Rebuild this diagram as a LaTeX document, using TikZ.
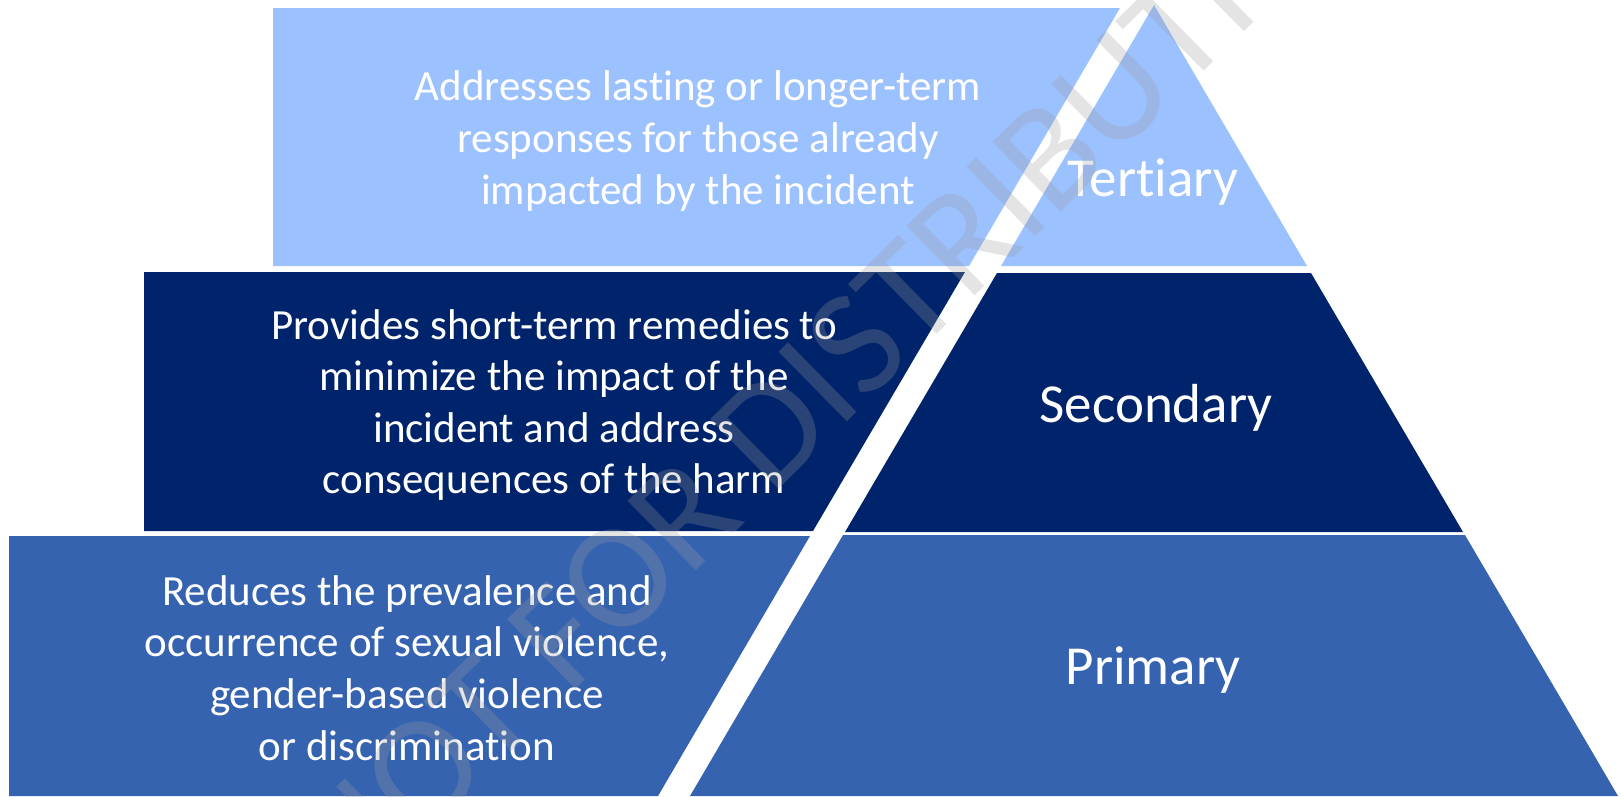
\documentclass[tikz,border=0pt]{standalone}
\usepackage{fontspec}
\setmainfont{Carlito}[Ligatures=NoCommon]
\usepackage{xcolor}
\usepackage{tikz}
\definecolor{tertblue}{RGB}{155,193,255}
\definecolor{secnavy}{RGB}{0,36,107}
\definecolor{primblue}{RGB}{54,99,176}

\begin{document}
\begin{tikzpicture}[x=1pt, y=-1pt,
    desc/.style={align=center, text=white, inner sep=0pt, font=\fontsize{43}{51.6}\selectfont},
    level/.style={text=white, inner sep=0pt, font=\fontsize{55}{66}\selectfont},
    wmark/.style={text=black!39, text opacity=0.27, inner sep=0pt, rotate=44.5, font=\fontsize{152}{180}\selectfont}]
    \useasboundingbox (0,0) rectangle (1621,796);

    % Tertiary
    \fill [tertblue] (273,8) -- (1120,8) -- (969,266) -- (273,266) -- cycle;
    \fill [tertblue] (1154,5) -- (1307,266) -- (1001,266) -- cycle;

    % Secondary
    \fill [secnavy] (144,272) -- (965,272) -- (813,531) -- (144,531) -- cycle;
    \fill [secnavy] (997,273) -- (1311,273) -- (1463,532) -- (845,532) -- cycle;

    % Primary
    \fill [primblue] (9,536) -- (810,536) -- (658,796) -- (9,796) -- cycle;
    \fill [primblue] (843,535) -- (1465,535) -- (1618,796) -- (690,796) -- cycle;

    % Texts
    \node [desc] (tertdesc) at (698,141) {Addresses lasting or longer-term\\responses for those already\\impacted by the incident};
    \node [level] (tert) at (1153,182) {Tertiary};
    \node [desc] (secdesc) at (554,405) {Provides short-term remedies to\\minimize the impact of the\\incident and address\\consequences of the harm};
    \node [level] (sec) at (1156,408) {Secondary};
    \node [desc] (primdesc) at (407,668) {Reduces the prevalence and\\occurrence of sexual violence,\\gender-based violence\\or discrimination};
    \node [level] (prim) at (1153,670) {Primary};

    % Watermark
    \begin{scope}
        \clip (0,0) rectangle (1621,796);
        \node [wmark] (mark) at (844,357) {NOT FOR DISTRIBUTION};
    \end{scope}
\end{tikzpicture}
\end{document}
